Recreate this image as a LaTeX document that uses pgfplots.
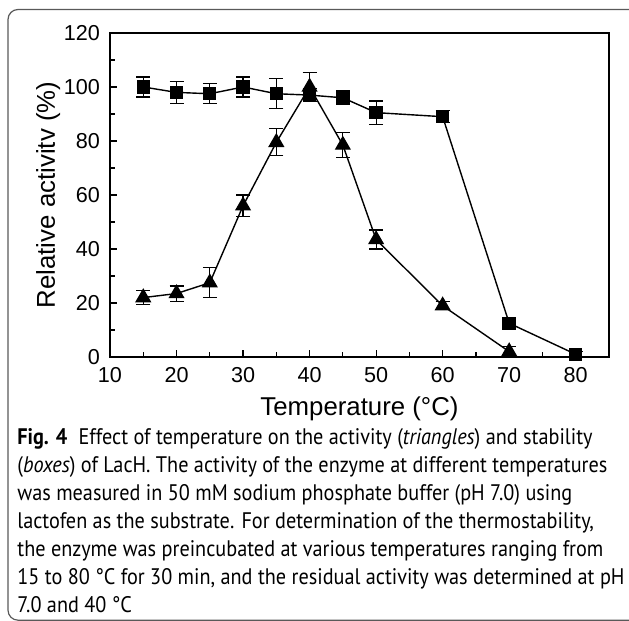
\documentclass[border=0pt]{standalone}
\usepackage{fontspec}
\setmainfont{Liberation Sans}
\newfontfamily\capfont[FakeStretch=0.9]{PT Sans}
\usepackage{pgfplots}
\pgfplotsset{compat=1.18}
\usepackage{pgfplotstable}

% stability (boxes)
\pgfplotstableread{
T   y     e
15  100   3.7
20  98    4.0
25  97.5  3.7
30  100   3.7
35  97.5  5.5
40  97    2.3
45  96    2.5
50  90.5  4.3
60  89    2.2
70  12.5  1.5
80  1     1.0
}\stability

% activity (triangles)
\pgfplotstableread{
T   y     e
15  22    2.5
20  23.5  2.8
25  27.5  5.5
30  56    4.0
35  79.5  5.0
40  100   5.5
45  78.5  4.7
50  43.5  3.5
60  19    1.5
70  2     2.0
}\activity

\begin{document}
\begin{tikzpicture}[x=0.5pt,y=0.5pt]
\useasboundingbox (0,0) rectangle (629,621);
\draw[black!65, line width=0.6pt, rounded corners=5pt] (8,0.8) rectangle (645,611.5);

\begin{axis}[
    at={(55pt,132pt)}, anchor=south west,
    scale only axis,
    width=249.5pt, height=162pt,
    xmin=10, xmax=85,
    ymin=0, ymax=120,
    xtick={10,20,...,80},
    minor xtick={15,25,...,75},
    ytick={0,20,...,120},
    minor ytick={10,30,...,110},
    tick pos=left,
    tick align=inside,
    major tick length=3.5pt,
    minor tick length=2.5pt,
    axis line style={line width=0.7pt},
    every tick/.style={black, line width=0.6pt},
    /pgf/number format/assume math mode=true,
    ticklabel style={font=\fontsize{10.8}{12}\selectfont},
    yticklabel style={xshift=-1.5pt},
    xticklabel style={yshift=-1.5pt},
    xlabel={Temperature (°C)},
    ylabel={Relative activitv (\%)},
    label style={font=\fontsize{12.9}{15}\selectfont},
    xlabel style={yshift=-0.5pt},
    ylabel style={yshift=-5pt},
    clip=false,
    error bars/error bar style={line width=0.6pt, black},
    error bars/error mark options={rotate=90, mark size=3.5pt, line width=0.6pt, black},
]
\addplot[black, line width=0.7pt, mark=square*, mark size=3pt,
    error bars/.cd, y dir=both, y explicit]
    table[x=T, y=y, y error=e] {\stability};
\addplot[black, line width=0.7pt, mark=triangle*, mark size=4pt,
    error bars/.cd, y dir=both, y explicit]
    table[x=T, y=y, y error=e] {\activity};
\end{axis}

\node[anchor=north west, align=left, inner sep=0pt,
      font=\capfont\fontsize{11.25}{14}\selectfont] at (17,193) {%
\textbf{Fig. 4}\enspace Effect of temperature on the activity (\textit{triangles}) and stability\\
(\textit{boxes}) of LacH. The activity of the enzyme at different temperatures\\
was measured in 50 mM sodium phosphate buffer (pH 7.0) using\\
lactofen as the substrate. For determination of the thermostability,\\
the enzyme was preincubated at various temperatures ranging from\\
15 to 80 °C for 30 min, and the residual activity was determined at pH\\
7.0 and 40 °C};
\end{tikzpicture}
\end{document}
